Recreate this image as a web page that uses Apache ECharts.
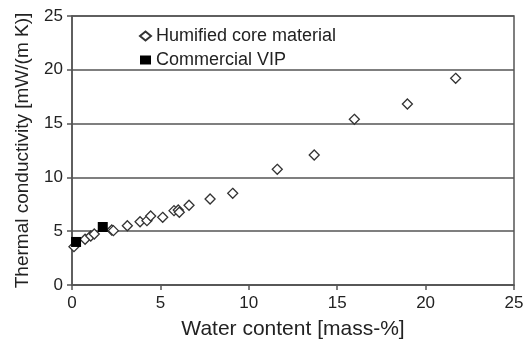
<!DOCTYPE html>
<html>
<head>
<meta charset="utf-8">
<script src="https://cdn.jsdelivr.net/npm/echarts@6/dist/echarts.min.js"></script>
<style>
  html, body { margin: 0; padding: 0; background: #fff; }
  #chart { width: 529px; height: 340px; }
</style>
</head>
<body>
<div id="chart"></div>
<script>
// Water content [mass-%] and thermal conductivity [mW/(m K)]
const humifiedWater = [0.11, 0.74, 1.06, 1.26, 2.25, 2.34, 3.13, 3.85, 4.24, 4.45, 5.13, 5.77, 6.01, 6.07, 6.62, 7.81, 9.09, 11.61, 13.70, 15.97, 18.97, 21.70];
const humifiedLambda = [3.56, 4.25, 4.55, 4.74, 5.11, 5.05, 5.51, 5.88, 5.98, 6.41, 6.29, 6.91, 6.97, 6.76, 7.41, 7.99, 8.52, 10.75, 12.08, 15.40, 16.82, 19.21];
const vipWater = [0.23, 1.74];
const vipLambda = [4.0, 5.39];

const xTicks = [0, 5, 10, 15, 20, 25];
const yTicks = [0, 5, 10, 15, 20, 25];

const pairs = (xs, ys) => xs.map((x, i) => [x, ys[i]]);

const chart = echarts.init(document.getElementById('chart'), null, { renderer: 'canvas' });
const font = '"Liberation Sans", Arial, sans-serif';
const ink = '#222';
const lineCol = '#555';

chart.setOption({
  animation: false,
  backgroundColor: '#fff',
  textStyle: { fontFamily: font, color: ink },
  grid: {
    left: 72, right: 15, top: 16, bottom: 55,
    containLabel: false,
    outerBoundsMode: 'none',
    show: true, borderColor: lineCol, borderWidth: 1.5, backgroundColor: 'transparent'
  },
  legend: {
    orient: 'vertical',
    left: 134, top: 22,
    itemGap: 6,
    itemWidth: 11, itemHeight: 9,
    textStyle: { fontFamily: font, fontSize: 18, color: ink },
    data: ['Humified core material', 'Commercial VIP']
  },
  xAxis: {
    type: 'value',
    min: xTicks[0], max: xTicks[xTicks.length - 1], interval: 5,
    name: 'Water content [mass-%]',
    nameLocation: 'middle', nameGap: 34,
    nameTextStyle: { fontFamily: font, fontSize: 21, color: ink },
    axisLine: { show: true, lineStyle: { color: lineCol, width: 1.5 } },
    axisTick: { show: true, length: 5, lineStyle: { color: lineCol, width: 1.5 } },
    axisLabel: { fontFamily: font, fontSize: 17, color: ink, margin: 10 },
    splitLine: { show: false }
  },
  yAxis: {
    type: 'value',
    min: yTicks[0], max: yTicks[yTicks.length - 1], interval: 5,
    name: 'Thermal conductivity [mW/(m K)]',
    nameLocation: 'middle', nameGap: 40,
    nameTextStyle: { fontFamily: font, fontSize: 19, color: ink },
    axisLine: { show: true, lineStyle: { color: lineCol, width: 1.5 } },
    axisTick: { show: true, length: 5, lineStyle: { color: lineCol, width: 1.5 } },
    axisLabel: { fontFamily: font, fontSize: 17, color: ink, margin: 9 },
    splitLine: { show: true, lineStyle: { color: lineCol, width: 1.5 } }
  },
  series: [
    {
      name: 'Humified core material',
      type: 'scatter',
      symbol: 'diamond',
      symbolSize: 10,
      itemStyle: { color: '#fff', borderColor: '#333', borderWidth: 1.3, opacity: 1 },
      data: pairs(humifiedWater, humifiedLambda),
      z: 3
    },
    {
      name: 'Commercial VIP',
      type: 'scatter',
      symbol: 'rect',
      symbolSize: 10,
      itemStyle: { color: '#000', borderColor: '#000', borderWidth: 0, opacity: 1 },
      data: pairs(vipWater, vipLambda),
      z: 4
    }
  ]
});
</script>
</body>
</html>
